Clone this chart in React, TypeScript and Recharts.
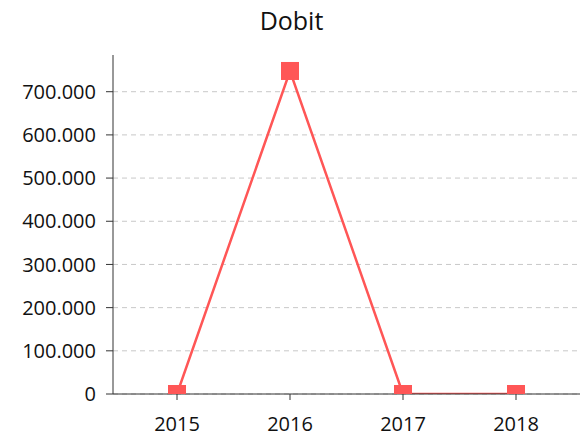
import React from "react";
import { LineChart, Line, XAxis, YAxis, CartesianGrid } from "recharts";

const years = ["2015", "2016", "2017", "2018"];
const dobit = [0, 748000, 0, 0];
const yTicks = [0, 100000, 200000, 300000, 400000, 500000, 600000, 700000];
const yMax = 785000;

const data = years.map((year, i) => ({ year, dobit: dobit[i] }));

const FONT = "'Open Sans', sans-serif";
const RED = "#ff5656";

const fmt = (v: number) => (v === 0 ? "0" : v.toLocaleString("de-DE"));

function SquareDot(props: any) {
  const { cx, cy } = props;
  if (cx == null || cy == null) return null;
  return <rect x={cx - 9} y={cy - 9} width={18} height={18} fill={RED} />;
}

export default function App() {
  return (
    <div
      style={{
        position: "fixed",
        left: 0,
        top: 0,
        width: 583,
        height: 438,
        background: "#fff",
        fontFamily: FONT,
      }}
    >
      <div
        style={{
          position: "absolute",
          top: 3,
          left: 0,
          width: 583,
          textAlign: "center",
          fontSize: 25,
          color: "#111",
        }}
      >
        Dobit
      </div>
      <LineChart
        width={583}
        height={438}
        data={data}
        margin={{ top: 55, right: 3, left: 0, bottom: 0 }}
      >
        <CartesianGrid
          vertical={false}
          stroke="#c8c8c8"
          strokeDasharray="5 4"
          syncWithTicks
        />
        <XAxis
          dataKey="year"
          padding={{ left: 64, right: 64 }}
          stroke="#333"
          tickSize={6}
          tickMargin={17}
          tick={{ fontSize: 20, fill: "#111", fontFamily: FONT }}
          height={44}
        />
        <YAxis
          width={113}
          domain={[0, yMax]}
          ticks={yTicks}
          allowDataOverflow
          stroke="#333"
          tickSize={7}
          tickMargin={10}
          tickFormatter={fmt}
          tick={{ fontSize: 20, fill: "#111", fontFamily: FONT }}
        />
        <Line
          type="linear"
          dataKey="dobit"
          stroke={RED}
          strokeWidth={2.5}
          dot={<SquareDot />}
          activeDot={false}
          isAnimationActive={false}
        />
      </LineChart>
    </div>
  );
}
